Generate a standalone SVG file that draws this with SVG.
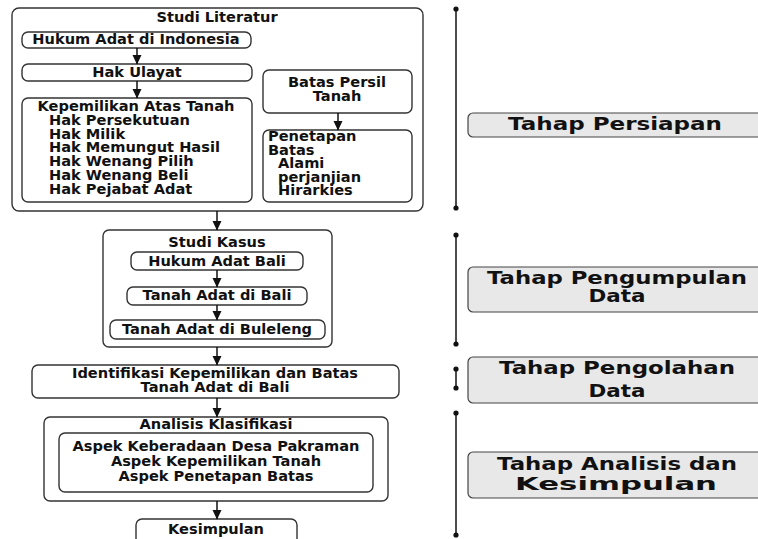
<svg xmlns="http://www.w3.org/2000/svg" width="758" height="539" viewBox="0 0 758 539">
<defs>
<style>
.box{fill:#fff;stroke:#333;stroke-width:1.4}
.tb{fill:#e8e8e8;stroke:#444;stroke-width:1.2}
.t{font-family:"DejaVu Sans",Verdana,sans-serif;font-weight:bold;font-size:14.6px;fill:#111}
.c{text-anchor:middle}
.big{font-family:"DejaVu Sans",Verdana,sans-serif;font-weight:bold;font-size:18px;fill:#111;text-anchor:middle}
.con{stroke:#111;stroke-width:1.5;fill:none}
.ph{stroke:#111;stroke-width:1.5}
</style>
<marker id="ah" markerUnits="userSpaceOnUse" markerWidth="10" markerHeight="10" viewBox="0 0 10 10" refX="9" refY="5" orient="auto">
<path d="M0,0.5 L9.5,5 L0,9.5 Z" fill="#111"/>
</marker>
</defs>
<rect width="758" height="539" fill="#fff"/>

<g id="studi-literatur">
<rect class="box" x="12" y="8" width="411" height="203" rx="7"/>
<text class="t c" x="217" y="22">Studi Literatur</text>
</g>
<g id="hukum-adat-indonesia">
<rect class="box" x="22" y="32" width="229" height="16" rx="6"/>
<text class="t c" x="136" y="44">Hukum Adat di Indonesia</text>
</g>
<g id="hak-ulayat">
<rect class="box" x="22" y="64" width="230" height="17" rx="6"/>
<text class="t c" x="137" y="77">Hak Ulayat</text>
</g>
<g id="kepemilikan">
<rect class="box" x="22" y="98" width="230" height="104" rx="6"/>
<text class="t c" x="136" y="111">Kepemilikan Atas Tanah</text>
<text class="t" x="49" y="125">Hak Persekutuan</text>
<text class="t" x="49" y="138.7">Hak Milik</text>
<text class="t" x="49" y="152.4">Hak Memungut Hasil</text>
<text class="t" x="49" y="166.1">Hak Wenang Pilih</text>
<text class="t" x="49" y="179.8">Hak Wenang Beli</text>
<text class="t" x="49" y="193.5">Hak Pejabat Adat</text>
</g>
<g id="batas-persil">
<rect class="box" x="263" y="70" width="149" height="43" rx="6"/>
<text class="t c" x="337" y="87">Batas Persil</text>
<text class="t c" x="337" y="101">Tanah</text>
</g>
<g id="penetapan-batas">
<rect class="box" x="263" y="130" width="149" height="72" rx="6"/>
<text class="t" x="268" y="141">Penetapan</text>
<text class="t" x="268" y="154.6">Batas</text>
<text class="t" x="278" y="168.2">Alami</text>
<text class="t" x="278" y="181.8">perjanjian</text>
<text class="t" x="278" y="195.4">Hirarkies</text>
</g>

<g id="studi-kasus">
<rect class="box" x="103" y="230" width="229" height="117" rx="6"/>
<text class="t c" x="217" y="247">Studi Kasus</text>
</g>
<g id="hukum-adat-bali">
<rect class="box" x="131" y="252" width="172" height="18" rx="6"/>
<text class="t c" x="217" y="266">Hukum Adat Bali</text>
</g>
<g id="tanah-adat-bali">
<rect class="box" x="127" y="287" width="180" height="18" rx="6"/>
<text class="t c" x="217" y="300">Tanah Adat di Bali</text>
</g>
<g id="tanah-adat-buleleng">
<rect class="box" x="110" y="320" width="215" height="19" rx="6"/>
<text class="t c" x="217" y="334">Tanah Adat di Buleleng</text>
</g>

<g id="identifikasi">
<rect class="box" x="32" y="365" width="367" height="33" rx="6"/>
<text class="t c" x="215" y="378">Identifikasi Kepemilikan dan Batas</text>
<text class="t c" x="215" y="392">Tanah Adat di Bali</text>
</g>
<g id="analisis">
<rect class="box" x="44" y="417" width="344" height="84" rx="6"/>
<text class="t c" x="216" y="429">Analisis Klasifikasi</text>
</g>
<g id="aspek">
<rect class="box" x="59" y="433" width="314" height="59" rx="6"/>
<text class="t c" x="216" y="451">Aspek Keberadaan Desa Pakraman</text>
<text class="t c" x="216" y="466">Aspek Kepemilikan Tanah</text>
<text class="t c" x="216" y="481">Aspek Penetapan Batas</text>
</g>
<g id="kesimpulan">
<rect class="box" x="136" y="519" width="161" height="30" rx="6"/>
<text class="t c" x="216" y="534">Kesimpulan</text>
</g>

<g id="connectors">
<line class="con" x1="137" y1="48" x2="137" y2="64" marker-end="url(#ah)"/>
<line class="con" x1="137" y1="81" x2="137" y2="98" marker-end="url(#ah)"/>
<line class="con" x1="338" y1="113" x2="338" y2="130" marker-end="url(#ah)"/>
<line class="con" x1="217" y1="211" x2="217" y2="230" marker-end="url(#ah)"/>
<line class="con" x1="217" y1="270" x2="217" y2="287" marker-end="url(#ah)"/>
<line class="con" x1="217" y1="305" x2="217" y2="320" marker-end="url(#ah)"/>
<line class="con" x1="217" y1="347" x2="217" y2="365" marker-end="url(#ah)"/>
<line class="con" x1="217" y1="398" x2="217" y2="417" marker-end="url(#ah)"/>
<line class="con" x1="217" y1="501" x2="217" y2="519" marker-end="url(#ah)"/>
</g>

<g id="phase-persiapan">
<line class="ph" x1="456" y1="9" x2="456" y2="208"/>
<circle cx="456" cy="9" r="2.6" fill="#111"/>
<circle cx="456" cy="208" r="2.6" fill="#111"/>
<rect class="tb" x="468" y="113" width="300" height="24" rx="5"/>
<text class="big" x="615" y="130" textLength="214" lengthAdjust="spacingAndGlyphs">Tahap Persiapan</text>
</g>
<g id="phase-pengumpulan">
<line class="ph" x1="456" y1="235" x2="456" y2="344"/>
<circle cx="456" cy="235" r="2.6" fill="#111"/>
<circle cx="456" cy="344" r="2.6" fill="#111"/>
<rect class="tb" x="468" y="267" width="300" height="45" rx="5"/>
<text class="big" x="617" y="284" textLength="260" lengthAdjust="spacingAndGlyphs">Tahap Pengumpulan</text>
<text class="big" x="617" y="302" textLength="57" lengthAdjust="spacingAndGlyphs">Data</text>
</g>
<g id="phase-pengolahan">
<line class="ph" x1="456" y1="369" x2="456" y2="388"/>
<circle cx="456" cy="369" r="2.6" fill="#111"/>
<circle cx="456" cy="388" r="2.6" fill="#111"/>
<rect class="tb" x="468" y="357" width="300" height="46" rx="5"/>
<text class="big" x="617" y="374" textLength="236" lengthAdjust="spacingAndGlyphs">Tahap Pengolahan</text>
<text class="big" x="617" y="397" textLength="57" lengthAdjust="spacingAndGlyphs">Data</text>
</g>
<g id="phase-analisis">
<line class="ph" x1="456" y1="413" x2="456" y2="535"/>
<circle cx="456" cy="413" r="2.6" fill="#111"/>
<circle cx="456" cy="535" r="2.6" fill="#111"/>
<rect class="tb" x="468" y="452" width="300" height="46" rx="5"/>
<text class="big" x="617" y="470" textLength="240" lengthAdjust="spacingAndGlyphs">Tahap Analisis dan</text>
<text class="big" x="616" y="490" textLength="202" lengthAdjust="spacingAndGlyphs">Kesimpulan</text>
</g>
</svg>
